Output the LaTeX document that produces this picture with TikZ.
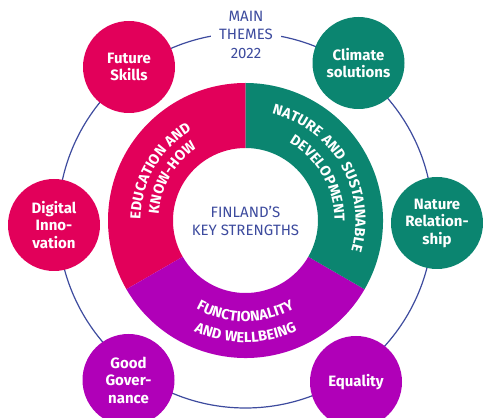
\documentclass[tikz,border=0pt]{standalone}
\usepackage{fontspec}
\setmainfont{Fira Sans}
\newfontfamily\ringfam[LetterSpace=6]{Fira Sans}
\newcommand\ringfont{\ringfam\bfseries\fontsize{14.5}{14.5}\selectfont}
\usetikzlibrary{decorations.text}
\definecolor{fred}{HTML}{E2005A}
\definecolor{fgreen}{HTML}{0B8570}
\definecolor{fpurple}{HTML}{B000B8}
\definecolor{fblue}{HTML}{3D4B9E}
\tikzset{
  theme/.style={circle, minimum size=92pt, inner sep=0pt, text=white, align=center,
    font=\bfseries\fontsize{15}{17.5}\selectfont},
  ringtext/.style={decorate, decoration={text along path, text align=center, text color=white, text={|\ringfont|#1}}},
  bluetext/.style={text=fblue, align=center, font=\fontsize{15}{18.5}\selectfont}
}
\begin{document}
\begin{tikzpicture}[x=1pt,y=1pt]
\useasboundingbox (0,0) rectangle (483,418);
\clip (0,0) rectangle (483,418);
\coordinate (C) at (245.5,197.5);
\draw[fblue, line width=1.2pt] (C) circle[radius=187.5];
\begin{scope}[shift={(245.5,197.5)}]
  \fill[fred] (90:137.5) arc[start angle=90,end angle=210,radius=137.5] -- (210:72.5) arc[start angle=210,end angle=90,radius=72.5] -- cycle;
  \fill[fpurple] (210:137.5) arc[start angle=210,end angle=330,radius=137.5] -- (330:72.5) arc[start angle=330,end angle=210,radius=72.5] -- cycle;
  \fill[fgreen] (-30:137.5) arc[start angle=-30,end angle=90,radius=137.5] -- (90:72.5) arc[start angle=90,end angle=-30,radius=72.5] -- cycle;
  \path[ringtext={EDUCATION AND}] (210:105) arc[start angle=210,end angle=90,radius=105];
  \path[ringtext={KNOW-HOW}] (210:87) arc[start angle=210,end angle=90,radius=87];
  \path[ringtext={NATURE AND SUSTAINABLE}] (90:110) arc[start angle=90,end angle=-30,radius=110];
  \path[ringtext={DEVELOPMENT}] (90:89) arc[start angle=90,end angle=-30,radius=89];
  \path[ringtext={FUNCTIONALITY}] (210:101) arc[start angle=210,end angle=330,radius=101];
  \path[ringtext={AND WELLBEING}] (210:122) arc[start angle=210,end angle=330,radius=122];
\end{scope}
\node[bluetext] (key) at (245.5,197) {FINLAND’S\\KEY STRENGTHS};
\node[bluetext, fill=white, inner xsep=8pt, inner ysep=1pt] (main) at (246,383.5) {MAIN\\THEMES\\2022};
\node[theme, fill=fred] (fs) at (129,351) {Future\\Skills};
\node[theme, fill=fgreen] (cs) at (358.5,355) {Climate\\solutions};
\node[theme, fill=fred] (di) at (54,193) {Digital\\Inno-\\vation};
\node[theme, fill=fgreen] (nr) at (437,195) {Nature\\Relation-\\ship};
\node[theme, fill=fpurple] (gg) at (128.5,38) {Good\\Gover-\\nance};
\node[theme, fill=fpurple] (eq) at (356,36) {Equality};
\end{tikzpicture}
\end{document}
